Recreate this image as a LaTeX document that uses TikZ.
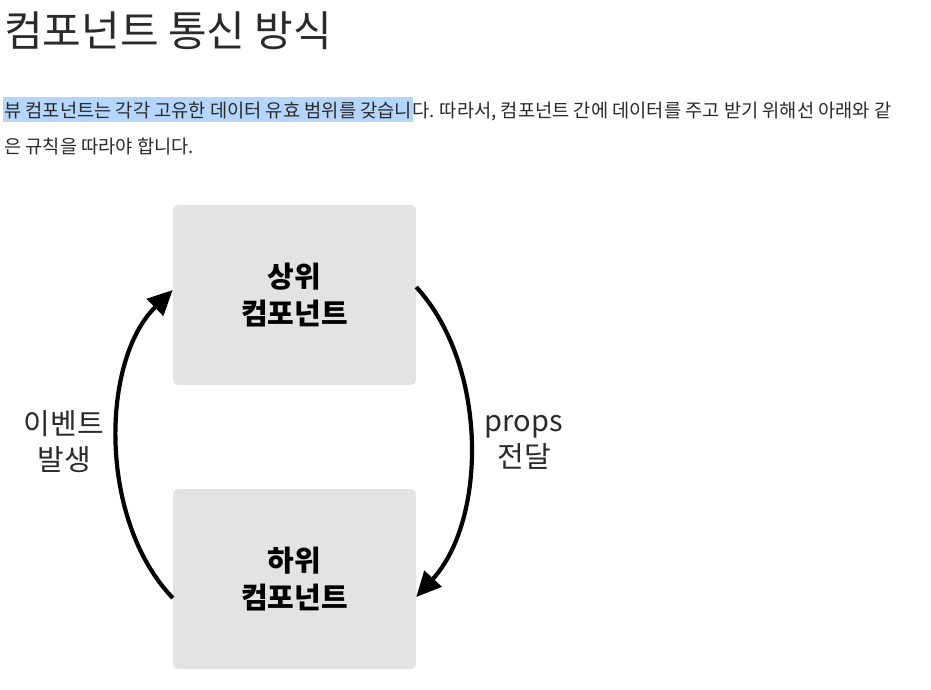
\documentclass[tikz,border=0pt]{standalone}
\usepackage{fontspec}
\setmainfont{Noto Sans CJK KR}
\usetikzlibrary{arrows.meta}
\definecolor{boxgray}{HTML}{E3E3E3}
\definecolor{hilite}{HTML}{B5D6FB}
\definecolor{txt}{HTML}{2A2A2A}
\tikzset{
  x=1pt, y=-1pt,
  compbox/.style={fill=boxgray, rounded corners=5pt, minimum width=243pt, minimum height=180pt, inner sep=0pt,
    align=center, font=\fontsize{29}{37}\selectfont\bfseries, text=black},
  sidelabel/.style={align=center, font=\fontsize{29}{36}\selectfont, text=txt, inner sep=0pt},
  flow/.style={line width=4.2pt, -{Triangle[length=25pt,width=23pt]}},
  para/.style={anchor=base west, inner sep=0pt, font=\fontsize{18.7}{20}\selectfont, text=txt}
}
\begin{document}
\begin{tikzpicture}
\useasboundingbox[fill=white] (0,0) rectangle (931,689);
% title
\node[anchor=base west, inner sep=0pt, font=\fontsize{42}{48}\selectfont, text=txt] (title) at (4,46) {컴포넌트 통신 방식};
% highlight
\fill[hilite] (3,97) rectangle (413,122);
\node[para] (line1) at (4,117) {뷰 컴포넌트는 각각 고유한 데이터 유효 범위를 갖습니다. 따라서, 컴포넌트 간에 데이터를 주고 받기 위해선 아래와 같};
\node[para] (line2) at (4,153) {은 규칙을 따라야 합니다.};
% boxes
\node[compbox] (t) at (294.5,295) {상위\\컴포넌트};
\node[compbox] (b) at (294.5,579) {하위\\컴포넌트};
% arrows
\coordinate (ls) at ([yshift=-19pt]b.west);
\coordinate (le) at ([yshift=5pt]t.west);
\coordinate (rs) at ([yshift=8pt]t.east);
\coordinate (re) at ([yshift=-18pt]b.east);
\draw[flow] (ls) .. controls +(-75,-78) and +(-72,70) .. (le);
\draw[flow] (rs) .. controls +(72,78) and +(71,-77) .. (re);
% labels
\node[sidelabel] (ev) at (64,442) {이벤트\\발생};
\node[sidelabel] (pr) at (524,442) {props\\전달};
\end{tikzpicture}
\end{document}
